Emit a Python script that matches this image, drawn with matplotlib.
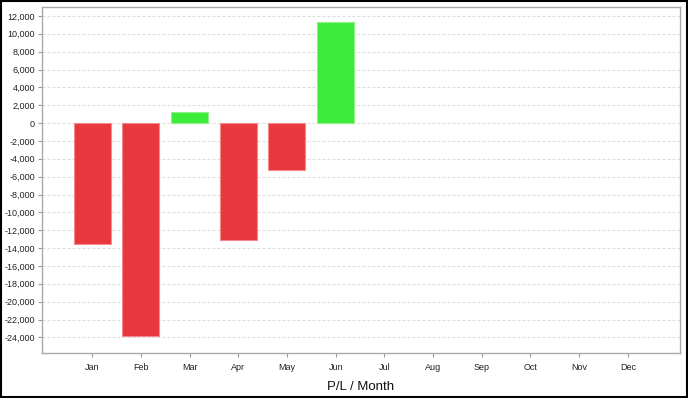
import matplotlib
matplotlib.use("Agg")
import matplotlib.pyplot as plt
from matplotlib.patches import Rectangle
from matplotlib.ticker import FuncFormatter, MultipleLocator

months = ["Jan", "Feb", "Mar", "Apr", "May", "Jun", "Jul", "Aug", "Sep", "Oct", "Nov", "Dec"]
values = [-13500, -23900, 1200, -13100, -5200, 11300]

plt.rcParams['font.family'] = ['Liberation Sans', 'DejaVu Sans']

fig = plt.figure(figsize=(6.88, 3.98), dpi=100)
ax = fig.add_axes([42/688, 1 - 353/398, (680-42)/688, (353-7)/398])

colors = ["#E8383D" if v < 0 else "#3DEB3A" for v in values]
edges = ["#F08A8D" if v < 0 else "#8FF08C" for v in values]
ax.bar(range(len(values)), values, width=0.76, color=colors, edgecolor=edges, linewidth=0.8, zorder=3)

ax.set_xlim(-1.03, 12.07)
ax.set_ylim(-25750, 13000)
ax.set_xticks(range(len(months)))
ax.set_xticklabels(months)
ax.yaxis.set_major_locator(MultipleLocator(2000))
ax.yaxis.set_major_formatter(FuncFormatter(lambda v, p: f"{int(v):,}"))
ax.grid(axis='y', color='#DDDDDD', linestyle=(0, (2.7, 1.8)), linewidth=0.8, zorder=0)

for s in ax.spines.values():
    s.set_color('#AAAAAA')
    s.set_linewidth(1)
ax.tick_params(axis='both', colors='#999999', labelcolor='#222222', labelsize=6.5, length=3, width=0.8)
ax.tick_params(axis='x', pad=4)
ax.tick_params(axis='y', pad=2)

ax.set_xlabel("P/L / Month", fontsize=9.5, color='#111111', labelpad=7)

fig.patches.append(Rectangle((0.001, 0.0015), 0.998, 0.997, transform=fig.transFigure,
                             fill=False, edgecolor='black', linewidth=1.5))

fig.savefig("out.png", dpi=100)
